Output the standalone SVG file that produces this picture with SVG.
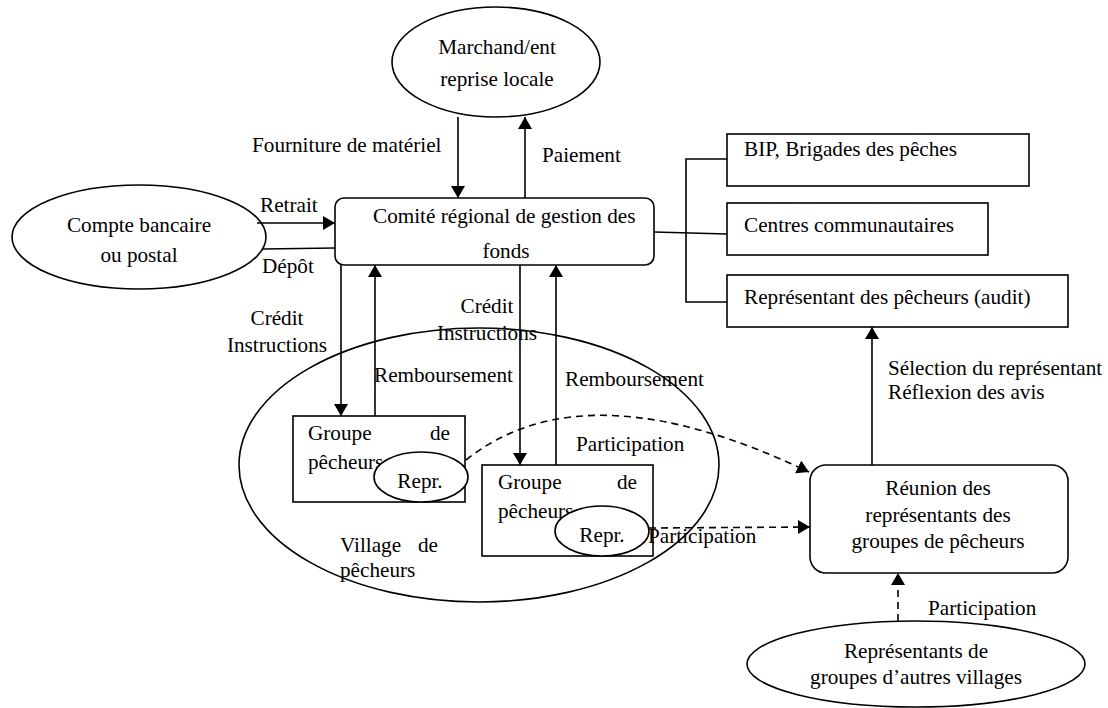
<svg xmlns="http://www.w3.org/2000/svg" width="1108" height="708" viewBox="0 0 1108 708">
  <style>
    .shape { fill: #fff; stroke: #000; stroke-width: 1.6; }
    .open { fill: none; stroke: #000; stroke-width: 1.6; }
    .link { fill: none; stroke: #000; stroke-width: 1.6; }
    .dash { fill: none; stroke: #000; stroke-width: 1.6; stroke-dasharray: 7 5; }
    text { font-family: "Liberation Serif", "Times New Roman", serif; font-size: 21.2px; fill: #000; }
    .c { text-anchor: middle; }
    .e { text-anchor: end; }
  </style>
  <defs>
    <marker id="arrow" markerUnits="userSpaceOnUse" markerWidth="14" markerHeight="16" refX="12" refY="7" orient="auto">
      <path d="M0,0 L12,7 L0,14 z" fill="#000"/>
    </marker>
  </defs>

  <rect width="1108" height="708" fill="#fff"/>

  <!-- village enclosure drawn first so groups sit on top -->
  <g id="village">
    <ellipse class="open" cx="479" cy="465" rx="240" ry="137"/>
    <text x="340" y="552">Village</text>
    <text class="e" x="438" y="552">de</text>
    <text x="340" y="577">pêcheurs</text>
  </g>

  <g id="marchand">
    <ellipse class="shape" cx="496" cy="62" rx="104" ry="55"/>
    <text class="c" x="497" y="54">Marchand/ent</text>
    <text class="c" x="497" y="86">reprise locale</text>
  </g>

  <g id="compte">
    <ellipse class="shape" cx="139" cy="237" rx="127" ry="52"/>
    <text class="c" x="139" y="232">Compte bancaire</text>
    <text class="c" x="139" y="262">ou postal</text>
  </g>

  <g id="comite">
    <rect class="shape" x="335" y="198" width="319" height="67" rx="9"/>
    <text x="373" y="223">Comité régional de gestion des</text>
    <text class="c" x="506" y="258">fonds</text>
  </g>

  <g id="bip">
    <rect class="shape" x="727" y="134" width="302" height="52"/>
    <text x="744" y="156">BIP, Brigades des pêches</text>
  </g>

  <g id="centres">
    <rect class="shape" x="727" y="203" width="261" height="52"/>
    <text x="744" y="232">Centres communautaires</text>
  </g>

  <g id="representant-audit">
    <rect class="shape" x="727" y="275" width="341" height="52"/>
    <text x="744" y="304">Représentant des pêcheurs (audit)</text>
  </g>

  <g id="groupe1">
    <rect class="shape" x="293" y="416" width="172" height="86"/>
    <text x="308" y="440">Groupe</text>
    <text class="e" x="450" y="440">de</text>
    <text x="308" y="469">pêcheurs</text>
  </g>
  <g id="repr1">
    <ellipse class="shape" cx="421" cy="477" rx="47" ry="25"/>
    <text class="c" x="420" y="488">Repr.</text>
  </g>

  <g id="groupe2">
    <rect class="shape" x="482" y="465" width="171" height="91"/>
    <text x="498" y="489">Groupe</text>
    <text class="e" x="637" y="489">de</text>
    <text x="498" y="518">pêcheurs</text>
  </g>
  <g id="repr2">
    <ellipse class="shape" cx="602" cy="531" rx="47" ry="25"/>
    <text class="c" x="602" y="542">Repr.</text>
  </g>

  <g id="reunion">
    <rect class="shape" x="810" y="465" width="258" height="108" rx="16"/>
    <text class="c" x="938" y="495">Réunion des</text>
    <text class="c" x="938" y="522">représentants des</text>
    <text class="c" x="938" y="548">groupes de pêcheurs</text>
  </g>

  <g id="autres-villages">
    <ellipse class="shape" cx="916" cy="664" rx="169" ry="43"/>
    <text class="c" x="916" y="658">Représentants de</text>
    <text class="c" x="916" y="684">groupes d’autres villages</text>
  </g>

  <g id="connectors">
    <!-- supplier exchange -->
    <line class="link" x1="458" y1="117" x2="458" y2="198" marker-end="url(#arrow)"/>
    <line class="link" x1="525" y1="198" x2="525" y2="117" marker-end="url(#arrow)"/>
    <!-- bank account -->
    <line class="link" x1="257" y1="223" x2="335" y2="223" marker-end="url(#arrow)"/>
    <line class="link" x1="263" y1="249" x2="335" y2="248"/>
    <!-- oversight bracket -->
    <line class="link" x1="654" y1="232" x2="727" y2="234"/>
    <polyline class="link" points="727,159 686,159 686,302 727,302"/>
    <!-- credit / repayment -->
    <line class="link" x1="341" y1="265" x2="341" y2="416" marker-end="url(#arrow)"/>
    <line class="link" x1="375" y1="416" x2="375" y2="265" marker-end="url(#arrow)"/>
    <line class="link" x1="520" y1="265" x2="520" y2="465" marker-end="url(#arrow)"/>
    <line class="link" x1="556" y1="465" x2="556" y2="265" marker-end="url(#arrow)"/>
    <!-- participation -->
    <path class="dash" d="M466,460 Q585,365 809,472" marker-end="url(#arrow)"/>
    <line class="dash" x1="649" y1="528" x2="810" y2="527" marker-end="url(#arrow)"/>
    <line class="dash" x1="898" y1="621" x2="898" y2="573" marker-end="url(#arrow)"/>
    <!-- selection of representative -->
    <line class="link" x1="872" y1="465" x2="872" y2="327" marker-end="url(#arrow)"/>
  </g>

  <g id="labels">
    <text x="252" y="152">Fourniture de matériel</text>
    <text x="542" y="162">Paiement</text>
    <text x="260" y="212">Retrait</text>
    <text x="262" y="273">Dépôt</text>
    <text class="c" x="277" y="325">Crédit</text>
    <text class="c" x="277" y="352">Instructions</text>
    <text class="c" x="487" y="313">Crédit</text>
    <text class="c" x="487" y="340">Instructions</text>
    <text x="374" y="382">Remboursement</text>
    <text x="565" y="386">Remboursement</text>
    <text x="576" y="451">Participation</text>
    <text x="648" y="543">Participation</text>
    <text x="928" y="615">Participation</text>
    <text x="888" y="375">Sélection du représentant</text>
    <text x="888" y="399">Réflexion des avis</text>
  </g>
</svg>
